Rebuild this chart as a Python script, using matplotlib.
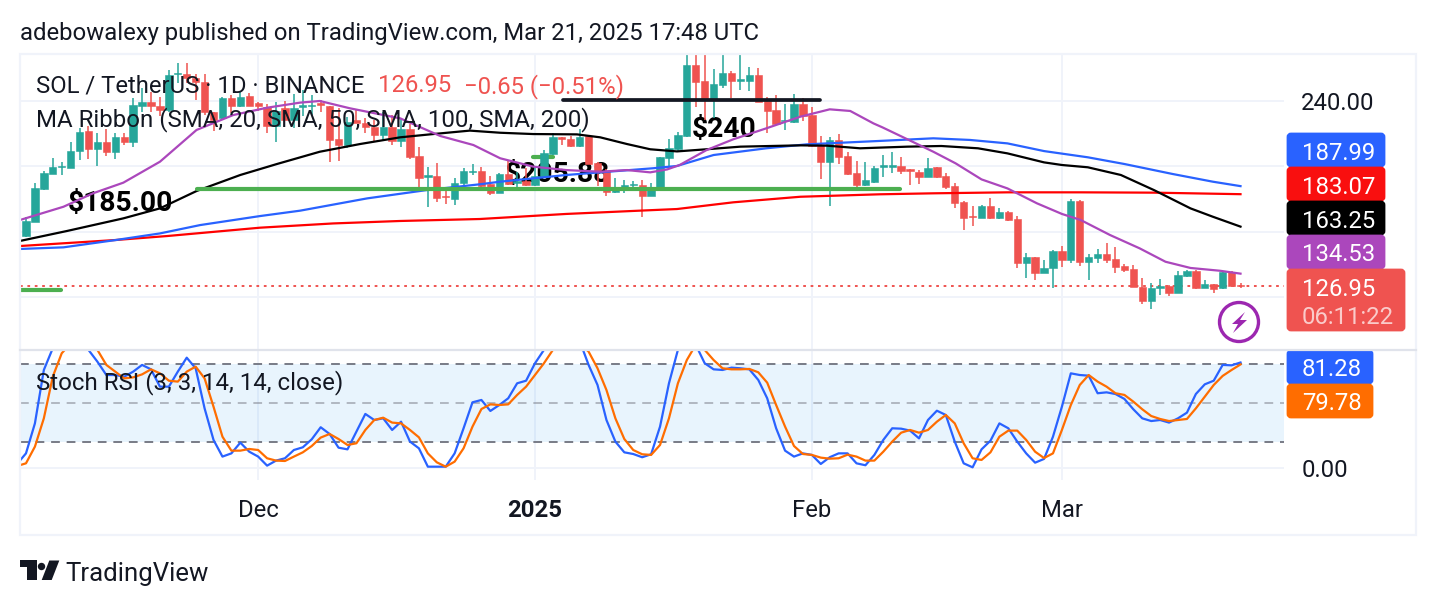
import numpy as np
import matplotlib
matplotlib.use('Agg')
import matplotlib.pyplot as plt
from matplotlib.patches import FancyBboxPatch, Polygon, Circle, Rectangle

plt.rcParams['font.family'] = ['Roboto', 'DejaVu Sans']

# Daily candles, Nov 5 2024 to Mar 21 2025
opens = [157.5, 166.3, 186.2, 195.4, 199.5, 198.9, 209.6, 221.9, 210.7, 214.7,
         209.0, 217.8, 215.1, 237.1, 239.2, 237.1, 234.5, 256.3, 256.3, 253.8,
         251.8, 233.5, 229.4, 241.6, 237.1, 243.0, 238.6, 236.1, 224.7, 235.5,
         228.4, 236.5, 236.9, 238.6, 236.9, 216.6, 213.1, 228.4, 226.8, 224.3,
         219.2, 223.9, 215.5, 222.7, 206.4, 193.8, 194.2, 182.0, 180.3, 189.7,
         196.8, 197.0, 189.1, 184.0, 195.2, 190.1, 191.3, 188.7, 193.4, 207.6,
         217.8, 216.8, 212.5, 218.6, 201.9, 197.0, 184.6, 187.4, 188.5, 188.5,
         182.2, 187.0, 205.4, 210.7, 218.8, 262.0, 252.2, 241.0, 249.8, 256.9,
         252.4, 252.4, 255.9, 240.0, 234.5, 227.6, 227.2, 238.2, 231.6, 212.9,
         202.9, 216.2, 206.4, 195.8, 188.7, 190.7, 199.9, 199.9, 200.3, 198.2,
         196.6, 193.8, 199.5, 194.2, 188.1, 178.1, 169.7, 168.7, 175.8, 168.7,
         172.2, 167.7, 141.2, 144.7, 135.1, 137.7, 148.5, 142.8, 179.1, 141.6,
         144.1, 146.5, 143.2, 139.2, 137.3, 126.5, 118.0, 125.5, 126.9, 122.9,
         133.3, 136.3, 125.9, 128.0, 125.5, 135.7, 127.6]
highs = [168.9, 189.7, 197.4, 205.0, 202.9, 214.7, 223.3, 224.9, 220.2, 222.7,
         220.2, 220.2, 241.6, 247.7, 245.7, 242.2, 258.9, 263.4, 263.4, 256.3,
         256.3, 233.5, 242.6, 243.7, 245.7, 244.7, 239.2, 238.2, 239.2, 240.2,
         244.1, 246.7, 243.7, 240.6, 236.9, 235.5, 230.0, 234.5, 229.4, 228.4,
         233.5, 231.4, 229.4, 225.9, 211.7, 199.5, 201.9, 187.6, 193.2, 198.9,
         201.5, 199.5, 194.2, 195.8, 203.9, 196.8, 198.9, 199.9, 210.0, 220.2,
         217.8, 218.6, 222.7, 219.2, 202.9, 198.2, 192.7, 191.7, 190.9, 191.7,
         189.7, 206.0, 216.6, 221.3, 275.0, 272.0, 272.0, 259.3, 270.0, 258.3,
         272.0, 260.6, 260.0, 242.2, 243.7, 238.2, 244.3, 241.6, 236.1, 218.6,
         218.2, 219.6, 209.0, 203.5, 202.9, 200.3, 207.0, 208.6, 206.0, 198.2,
         197.8, 205.0, 199.9, 195.8, 189.7, 178.9, 176.0, 176.4, 180.7, 174.4,
         172.8, 169.7, 146.9, 144.9, 142.8, 148.9, 151.4, 179.9, 179.5, 146.5,
         149.4, 153.0, 150.6, 140.4, 139.8, 131.8, 128.6, 131.0, 127.6, 136.3,
         136.7, 136.7, 130.6, 128.2, 136.3, 136.3, 129.0]
lows = [157.1, 166.3, 185.6, 195.4, 194.8, 198.9, 204.0, 204.5, 200.3, 206.4,
        204.5, 213.1, 212.1, 233.5, 233.5, 230.8, 233.5, 250.8, 250.8, 240.6,
        231.4, 221.9, 228.4, 232.5, 236.5, 237.1, 234.1, 220.2, 215.1, 228.4,
        223.3, 230.8, 231.4, 233.5, 202.9, 203.5, 211.1, 226.3, 220.6, 215.1,
        215.8, 213.1, 211.7, 204.5, 187.6, 175.4, 178.5, 177.0, 176.4, 187.6,
        194.8, 186.0, 182.5, 184.0, 188.7, 186.0, 188.1, 188.3, 192.7, 207.0,
        213.1, 211.7, 211.7, 201.5, 188.3, 182.2, 183.6, 184.0, 185.6, 169.3,
        182.2, 186.6, 198.2, 209.6, 217.8, 236.5, 228.4, 229.4, 248.1, 241.6,
        246.7, 246.3, 239.6, 220.6, 225.3, 222.3, 226.8, 228.0, 212.1, 192.3,
        176.0, 201.5, 194.8, 187.6, 188.1, 190.1, 193.8, 196.2, 195.2, 188.7,
        189.1, 193.8, 192.7, 186.2, 174.8, 161.2, 163.6, 168.3, 167.7, 167.9,
        166.9, 138.2, 131.8, 130.6, 134.7, 125.9, 138.8, 140.8, 139.2, 130.6,
        140.8, 141.2, 135.1, 135.7, 126.1, 115.7, 112.7, 121.5, 121.1, 122.5,
        132.7, 125.1, 125.5, 122.5, 124.9, 126.1, 125.5]
closes = [166.7, 186.6, 195.8, 199.5, 200.3, 209.6, 221.2, 210.7, 214.7, 209.0,
          217.8, 214.9, 237.5, 239.2, 237.1, 234.5, 255.9, 256.9, 253.8, 251.8,
          233.5, 228.4, 241.6, 237.1, 242.6, 237.1, 237.1, 224.7, 234.1, 228.4,
          235.5, 237.3, 237.5, 237.5, 216.2, 213.1, 227.4, 226.8, 223.9, 219.2,
          223.9, 215.5, 222.7, 206.0, 193.2, 194.8, 180.9, 181.1, 189.7, 197.0,
          197.4, 188.3, 183.6, 195.2, 189.3, 191.3, 188.7, 194.2, 208.0, 217.8,
          216.6, 212.5, 217.8, 201.5, 196.8, 184.6, 187.4, 188.5, 189.3, 182.2,
          187.2, 205.6, 211.1, 219.2, 262.0, 251.8, 241.0, 250.2, 256.9, 252.4,
          253.2, 255.9, 239.6, 233.9, 225.9, 228.4, 238.2, 230.8, 212.5, 202.9,
          216.2, 206.0, 195.4, 188.7, 191.7, 198.9, 200.7, 200.7, 197.4, 197.4,
          193.4, 198.9, 193.4, 187.6, 177.5, 168.7, 168.9, 175.8, 168.7, 172.2,
          167.3, 141.2, 144.7, 135.1, 137.9, 148.5, 142.8, 179.1, 141.6, 144.5,
          146.5, 142.8, 138.4, 136.7, 126.1, 118.0, 125.9, 126.9, 122.5, 133.7,
          136.1, 125.9, 128.0, 125.3, 135.7, 127.0, 126.95]

# SMA ribbon, sampled along each curve (candle index, price)
sma20_x = [-0.67, 4.2, 7.5, 10.9, 15.0, 19.1, 23.2, 27.0, 30.7, 32.9, 36.3, 41.9, 46.4, 50.1,
           53.1, 56.8, 60.5, 64.3, 67.3, 69.9, 71.8, 73.2, 76.2, 79.2, 82.9, 86.7, 90.0, 92.3,
           94.9, 95.9, 98.7, 101.6, 104.1, 107.0, 109.9, 113.2, 116.0, 118.1, 121.4, 124.7,
           127.6, 130.4, 133.7, 136]
sma20_y = [167.3, 175.4, 183.6, 190.1, 202.9, 222.3, 231.4, 235.9, 239.0, 240.0, 235.5, 229.4, 218.6, 213.1,
           205.0, 199.9, 197.8, 196.8, 197.8, 196.4, 198.2, 200.9, 210.0, 216.6, 223.3, 230.4, 234.9, 233.9,
           226.3, 223.9, 216.6, 209.0, 201.9, 192.1, 186.6, 177.5, 171.0, 167.3, 158.1, 150.0,
           141.8, 138.0, 136.3, 134.53]
sma50_x = [-0.67, 4.6, 10.9, 15.0, 19.1, 24.0, 28.1, 32.9, 37.4, 41.9, 45.6, 49.7, 53.1, 56.8, 61.7,
           64.3, 67.3, 69.9, 72.9, 76.2, 80.0, 86.7, 89.7, 93.4, 98.7, 102.5, 106.6, 109.9, 114.0,
           116.0, 118.9, 122.6, 126.3, 130.4, 132.9, 136]
sma50_y = [154.5, 160.6, 168.3, 174.4, 185.0, 194.8, 201.5, 209.0, 213.7, 217.8, 219.8, 221.9, 220.6, 219.8, 219.6,
           217.8, 213.7, 210.5, 209.2, 210.5, 212.1, 212.9, 212.7, 211.1, 212.1, 212.5, 211.1, 208.0, 202.5,
           200.9, 199.5, 194.8, 185.6, 174.4, 169.3, 163.25]
sma100_x = [-0.67, 4.2, 10.1, 15.0, 19.5, 26.2, 30.7, 38.2, 44.9, 50.8, 53.1, 60.5, 70.2, 72.9, 77.0,
            82.9, 87.4, 95.6, 97.5, 101.6, 105.7, 109.9, 114.0, 118.9, 123.0, 128.4, 132.9, 136]
sma100_y = [149.6, 150.6, 155.1, 159.1, 164.2, 169.7, 173.0, 180.5, 185.6, 189.1, 190.7, 194.8, 198.9, 200.3, 207.0,
            211.1, 213.5, 215.6, 216.1, 217.2, 216.2, 214.1, 209.4, 205.6, 201.5, 195.4, 190.7, 187.99]
sma200_x = [-0.67, 10.1, 15.8, 26.2, 34.4, 41.9, 50.8, 60.5, 68.7, 72.9, 79.2, 86.7, 95.6, 101.6, 109.9,
            118.1, 126.3, 136]
sma200_y = [151.4, 155.1, 157.5, 162.6, 165.2, 166.7, 167.9, 171.0, 173.0, 174.0, 178.1, 181.5, 183.0, 183.6, 184.2,
            184.2, 184.0, 183.07]

# Stoch RSI, first value is one day before the first candle
stoch_k = [2.8, 11.0, 34.2, 75.5, 92.3, 100, 100, 98, 91.0, 81.9, 71.6, 71.6, 70.3, 74.2, 79.4, 76.0,
           62.6, 62.6, 74.2, 85.0, 76.8, 45.8, 21.4, 8.5, 11.0, 19.3, 12.3, 8.5, 1.5, 5.4, 7.2, 13.6,
           15.7, 21.9, 31.2, 26.0, 15.4, 14.1, 27.8, 41.5, 36.8, 38.1, 29.1, 35.5, 20.1, 14.9, 0.7, 0.7,
           0.7, 11.0, 30.4, 50.5, 52.3, 43.8, 48.4, 53.6, 65.2, 67.2, 80.7, 91.0, 100, 100, 100, 98,
           79.4, 63.9, 36.8, 20.1, 11.8, 10.5, 8.0, 10.3, 31.7, 65.2, 91.0, 100, 95, 80.7, 76.0, 75.5,
           77.3, 76.8, 76.0, 67.8, 53.6, 30.4, 13.1, 8.5, 11.0, 9.8, 2.8, 8.0, 11.0, 11.0, 3.3, 1.8,
           9.8, 21.4, 30.4, 30.1, 28.6, 22.6, 36.8, 44.0, 40.7, 20.1, 3.3, 0.2, 14.1, 20.8, 34.2, 30.4,
           20.1, 11.0, 3.8, 6.7, 23.9, 47.1, 72.9, 71.6, 71.1, 57.5, 58.2, 56.9, 53.1, 45.1, 38.1, 36.0,
           36.8, 34.8, 38.1, 42.5, 56.9, 64.4, 67.2, 79.4, 79.1, 81.28]
stoch_d = [1.2, 3.3, 16.2, 38.1, 70.3, 88.4, 96, 100, 98, 91.0, 79.4, 74.2, 69.0, 69.8, 72.1, 76.0,
           72.9, 67.2, 66.5, 74.2, 78.1, 69.0, 47.1, 23.9, 13.1, 13.1, 14.4, 13.6, 7.2, 5.4, 5.1, 8.5,
           11.8, 16.7, 23.2, 26.0, 22.1, 17.5, 18.8, 29.1, 36.8, 38.6, 34.8, 34.2, 29.1, 23.4, 11.0, 4.1,
           0.7, 4.6, 14.9, 31.7, 45.3, 48.9, 48.4, 48.9, 56.2, 62.6, 71.6, 80.7, 91.0, 97, 100, 96,
           89.7, 76.8, 60.0, 38.1, 22.1, 13.6, 10.3, 9.8, 17.5, 38.1, 65.2, 83.2, 95, 91.0, 83.2, 76.8,
           76.0, 76.0, 76.3, 73.7, 65.7, 48.4, 31.7, 16.7, 10.5, 9.8, 7.7, 6.9, 7.2, 10.0, 8.5, 5.4,
           5.4, 12.3, 20.1, 27.0, 29.1, 27.0, 29.1, 35.5, 40.7, 34.2, 18.8, 7.2, 5.9, 11.8, 23.9, 28.6,
           28.6, 21.4, 12.3, 7.4, 11.0, 29.1, 48.4, 63.9, 71.6, 66.5, 62.6, 57.5, 56.2, 51.0, 45.1, 39.9,
           37.6, 36.0, 36.8, 37.6, 45.8, 54.9, 63.9, 70.9, 75.5, 79.78]

month_ticks = [26, 57, 88, 116]
month_labels = ['Dec', '2025', 'Feb', 'Mar']
price_ticks = [120, 160, 200, 240]
price_tick_labels = ['', '', '', '240.00']
last_price = 126.95

# Levels drawn by hand on the chart: (start index, end index, price, layer)
green_levels = [(19.1, 97.9, 186.0, 5), (-0.7, 3.9, 124.3, 5), (56.8, 59.0, 206.0, 2.8)]
black_level = (60.1, 88.9, 240.6)

UP = '#26a69a'
DOWN = '#ef5350'
GRID = '#f0f3fa'
INK = '#131722'

W, H = 1436, 606
fig = plt.figure(figsize=(W / 100, H / 100), dpi=100, facecolor='white')


def box(left, top, right, bottom):
    return [left / W, 1 - bottom / H, (right - left) / W, (bottom - top) / H]


ax = fig.add_axes(box(20, 54, 1284, 349))
ax2 = fig.add_axes(box(20, 350, 1284, 480))

# Price pane
x = np.arange(len(opens))
o, h, l, c = map(np.array, (opens, highs, lows, closes))
colors = np.where(c >= o, UP, DOWN)
ax.vlines(x, l, h, colors=colors, linewidth=1.1, zorder=3)
ax.bar(x, np.abs(c - o), bottom=np.minimum(o, c), width=0.82, color=colors,
       edgecolor=colors, linewidth=0.4, zorder=3)

ax.plot(sma200_x, sma200_y, color='#ff0000', linewidth=1.6, zorder=4)
ax.plot(sma100_x, sma100_y, color='#2962ff', linewidth=1.6, zorder=4)
ax.plot(sma50_x, sma50_y, color='#000000', linewidth=1.6, zorder=4)
ax.plot(sma20_x, sma20_y, color='#ab47bc', linewidth=1.6, zorder=4)
ax.axhline(last_price, color=DOWN, linewidth=1.4, linestyle=(0, (1.4, 2.4)), zorder=2)

for x0, x1, level, layer in green_levels:
    ax.plot([x0, x1], [level, level], color='#4caf50', linewidth=3.0, solid_capstyle='round', zorder=layer)
ax.plot(black_level[:2], [black_level[2]] * 2, color=INK, linewidth=2.7, solid_capstyle='round', zorder=5)

# Price notes sit underneath the candles and averages
ax.text(4.7, 177.3, '$185.00', fontsize=20.3, fontweight='bold', color='black', va='center', zorder=2.5)
ax.text(53.6, 195.0, '$205.88', fontsize=20.3, fontweight='bold', color='black', va='center', zorder=2.5)
ax.text(74.6, 222.5, '$240', fontsize=20.3, fontweight='bold', color='black', va='center', zorder=2.5)

ax.set_xlim(-0.67, 140.87)
ax.set_ylim(88.5, 268.7)
ax.set_yticks(price_ticks)
ax.set_yticklabels(price_tick_labels)
ax.yaxis.tick_right()
ax.tick_params(axis='y', length=0, pad=12.5, labelsize=17.2, labelcolor=INK)
ax.tick_params(axis='x', length=0, labelbottom=False)
ax.set_xticks(month_ticks)
ax.grid(True, color=GRID, linewidth=1.4)
ax.set_axisbelow(True)
for spine in ax.spines.values():
    spine.set_visible(False)

# Stoch RSI pane
ax2.axhspan(20, 80, color='#2196f3', alpha=0.1, linewidth=0, zorder=1)
ax2.axhline(80, color='#787b86', linewidth=1.4, linestyle=(0, (4.5, 3.5)), zorder=2)
ax2.axhline(50, color='#787b86', alpha=0.5, linewidth=1.4, linestyle=(0, (4.5, 3.5)), zorder=2)
ax2.axhline(20, color='#787b86', linewidth=1.4, linestyle=(0, (4.5, 3.5)), zorder=2)
stoch_x = np.arange(-1, len(opens))
ax2.plot(stoch_x, stoch_k, color='#2962ff', linewidth=1.6, zorder=3)
ax2.plot(stoch_x, stoch_d, color='#ff6d00', linewidth=1.6, zorder=4)

ax2.set_xlim(-0.67, 140.87)
ax2.set_ylim(-9.6, 90.95)
ax2.set_yticks([0])
ax2.set_yticklabels(['0.00'])
ax2.yaxis.tick_right()
ax2.tick_params(axis='y', length=0, pad=12.5, labelsize=17.2, labelcolor=INK)
ax2.set_xticks(month_ticks)
ax2.set_xticklabels(month_labels)
ax2.tick_params(axis='x', length=0, pad=13.5, labelsize=17.2, labelcolor=INK)
ax2.get_xticklabels()[1].set_fontweight('bold')
ax2.grid(True, color=GRID, linewidth=1.4)
ax2.set_axisbelow(True)
for spine in ax2.spines.values():
    spine.set_visible(False)

# Frame, price tags, captions and logo live on a full-figure layer in pixel units
top = fig.add_axes([0, 0, 1, 1], zorder=10)
top.set_xlim(0, W)
top.set_ylim(H, 0)
top.axis('off')
top.patch.set_visible(False)

top.add_patch(Rectangle((20, 54), 1396, 481, fill=False, edgecolor=GRID, linewidth=1.6))
top.plot([20, 1416], [349.5, 349.5], color='#e0e3eb', linewidth=1.6)


def tag(y0, y1, color, lines, right=1386):
    top.add_patch(FancyBboxPatch((1288, y0 + 1), right - 1290, y1 - y0 - 2,
                                 boxstyle='round,pad=0,rounding_size=3', facecolor=color,
                                 edgecolor=color, linewidth=2))
    for text, y_text, alpha in lines:
        top.text(1302, y_text, text, color='white', alpha=alpha, fontsize=17.2, va='center_baseline')


tag(133, 167, '#2962ff', [('187.99', 151, 1)])
tag(167, 201, '#f90f0f', [('183.07', 185, 1)])
tag(201, 235, '#000000', [('163.25', 219, 1)])
tag(235, 269, '#ab47bc', [('134.53', 252, 1)])
tag(269, 331, DOWN, [('126.95', 287, 1), ('06:11:22', 315, 0.7)], right=1406)
tag(350, 384, '#2962ff', [('81.28', 367, 1)], right=1374)
tag(384, 418, '#ff6d00', [('79.78', 401, 1)], right=1374)

top.text(20, 31, 'adebowalexy published on TradingView.com, Mar 21, 2025 17:48 UTC',
         fontsize=17.2, color=INK, va='center_baseline')
top.text(36, 83.5, 'SOL / TetherUS · 1D · BINANCE', fontsize=17.2, color=INK, va='center_baseline')
top.text(378, 83.5, '126.95', fontsize=17.2, color=DOWN, va='center_baseline')
top.text(464, 83.5, '−0.65 (−0.51%)', fontsize=17.2, color=DOWN, va='center_baseline')
top.text(36, 117, 'MA Ribbon (SMA, 20, SMA, 50, SMA, 100, SMA, 200)', fontsize=17.25, color=INK,
         va='center_baseline')
top.text(36, 379.5, 'Stoch RSI (3, 3, 14, 14, close)', fontsize=17.25, color=INK, va='center_baseline')

# Lightning badge
top.add_patch(Circle((1239, 322), 19.5, fill=False, edgecolor='#9c27b0', linewidth=2.4))
top.add_patch(Polygon([(1245, 312), (1232, 324), (1238, 324), (1233, 333), (1247, 320), (1240, 320)],
                      closed=True, facecolor='#9c27b0', edgecolor='none'))

# TradingView logo
top.add_patch(Polygon([(20, 560), (36.7, 560), (36.7, 580), (26.7, 580), (26.7, 567.3), (20, 567.3)],
                      closed=True, facecolor='#131722', edgecolor='none'))
top.add_patch(Circle((41.5, 566.5), 3.7, facecolor='#131722', edgecolor='none'))
top.add_patch(Polygon([(49.3, 560.5), (59.3, 560.5), (51.7, 580), (41.7, 580)],
                      closed=True, facecolor='#131722', edgecolor='none'))
top.text(65.5, 572, 'TradingView', fontsize=18.5, color='#131722', va='center_baseline')

fig.savefig('out.png', dpi=100)
